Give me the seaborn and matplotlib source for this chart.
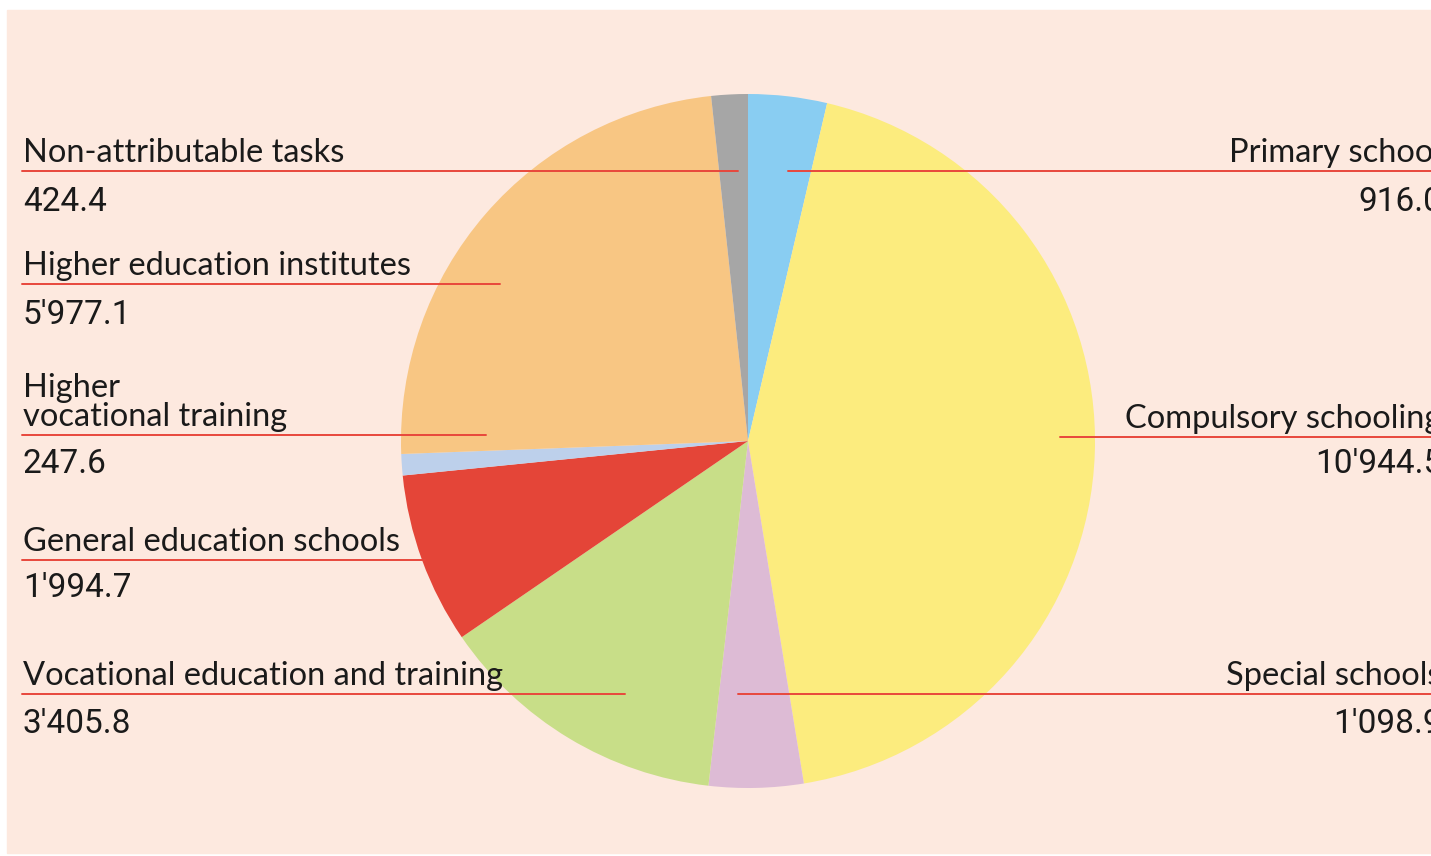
import matplotlib.pyplot as plt
import seaborn as sns
from matplotlib.patches import Rectangle

# -------------------------
# Data (clockwise from 12 o'clock)
# -------------------------
categories = ['Primary school', 'Compulsory schooling', 'Special schools',
              'Vocational education and training', 'General education schools',
              'Higher\nvocational training', 'Higher education institutes',
              'Non-attributable tasks']
values = [916.0, 10944.5, 1098.9, 3405.8, 1994.7, 247.6, 5977.1, 424.4]
colors = ['#89CDF2', '#FCEC7E', '#DDBBD5', '#C8DE88', '#E44538',
          '#BDD0EB', '#F8C683', '#A6A6A6']

# label layout in pixels: side, y of leader line, inner end of line, value baseline
sides = ['right', 'right', 'right', 'left', 'left', 'left', 'left', 'left']
line_y = [171, 437, 694, 694, 560, 435, 284, 171]
line_end = [788, 1060, 738, 625, 425, 486, 500, 738]
value_y = [211, 473, 733, 733, 597, 473, 324, 211]

W, H = 1431, 856
BG = '#FDE9DF'
LINE = '#E8473C'
NUM_FONT = ['Roboto', 'DejaVu Sans']

sns.set_theme(style='white')
plt.rcParams['font.family'] = ['Lato', 'DejaVu Sans']

fig = plt.figure(figsize=(W / 100, H / 100), dpi=100, facecolor='white')
ax = fig.add_axes([0, 0, 1, 1])

# panel background
ax.add_patch(Rectangle((7, H - 853), W, 843, color=BG, zorder=0))

# pie
ax.pie(values, colors=colors, startangle=90, counterclock=False,
       center=(748, H - 441), radius=347, frame=True,
       wedgeprops=dict(linewidth=0), normalize=True)
ax.set_xlim(0, W)
ax.set_ylim(0, H)
ax.set_aspect('equal')
ax.axis('off')

# labels with leader lines
for cat, val, side, ly, le, vy in zip(categories, values, sides, line_y, line_end, value_y):
    vtxt = f'{val:,.1f}'.replace(',', "'")
    if side == 'left':
        ax.plot([22, le], [H - ly, H - ly], color=LINE, lw=1.4, zorder=3)
        ax.text(23, H - ly + 3, cat, ha='left', va='bottom', fontsize=23.5,
                color='#1a1a1a', linespacing=0.95, zorder=4)
        ax.text(23, H - vy, vtxt, ha='left', va='baseline', fontsize=24,
                family=NUM_FONT, color='#1a1a1a', zorder=4)
    else:
        ax.plot([le, W], [H - ly, H - ly], color=LINE, lw=1.4, zorder=3)
        ax.text(1441, H - ly + 3, cat, ha='right', va='bottom', fontsize=23.5,
                color='#1a1a1a', zorder=4)
        ax.text(1442, H - vy, vtxt, ha='right', va='baseline', fontsize=24,
                family=NUM_FONT, color='#1a1a1a', zorder=4)

fig.savefig('out.png', dpi=100, facecolor='white')
